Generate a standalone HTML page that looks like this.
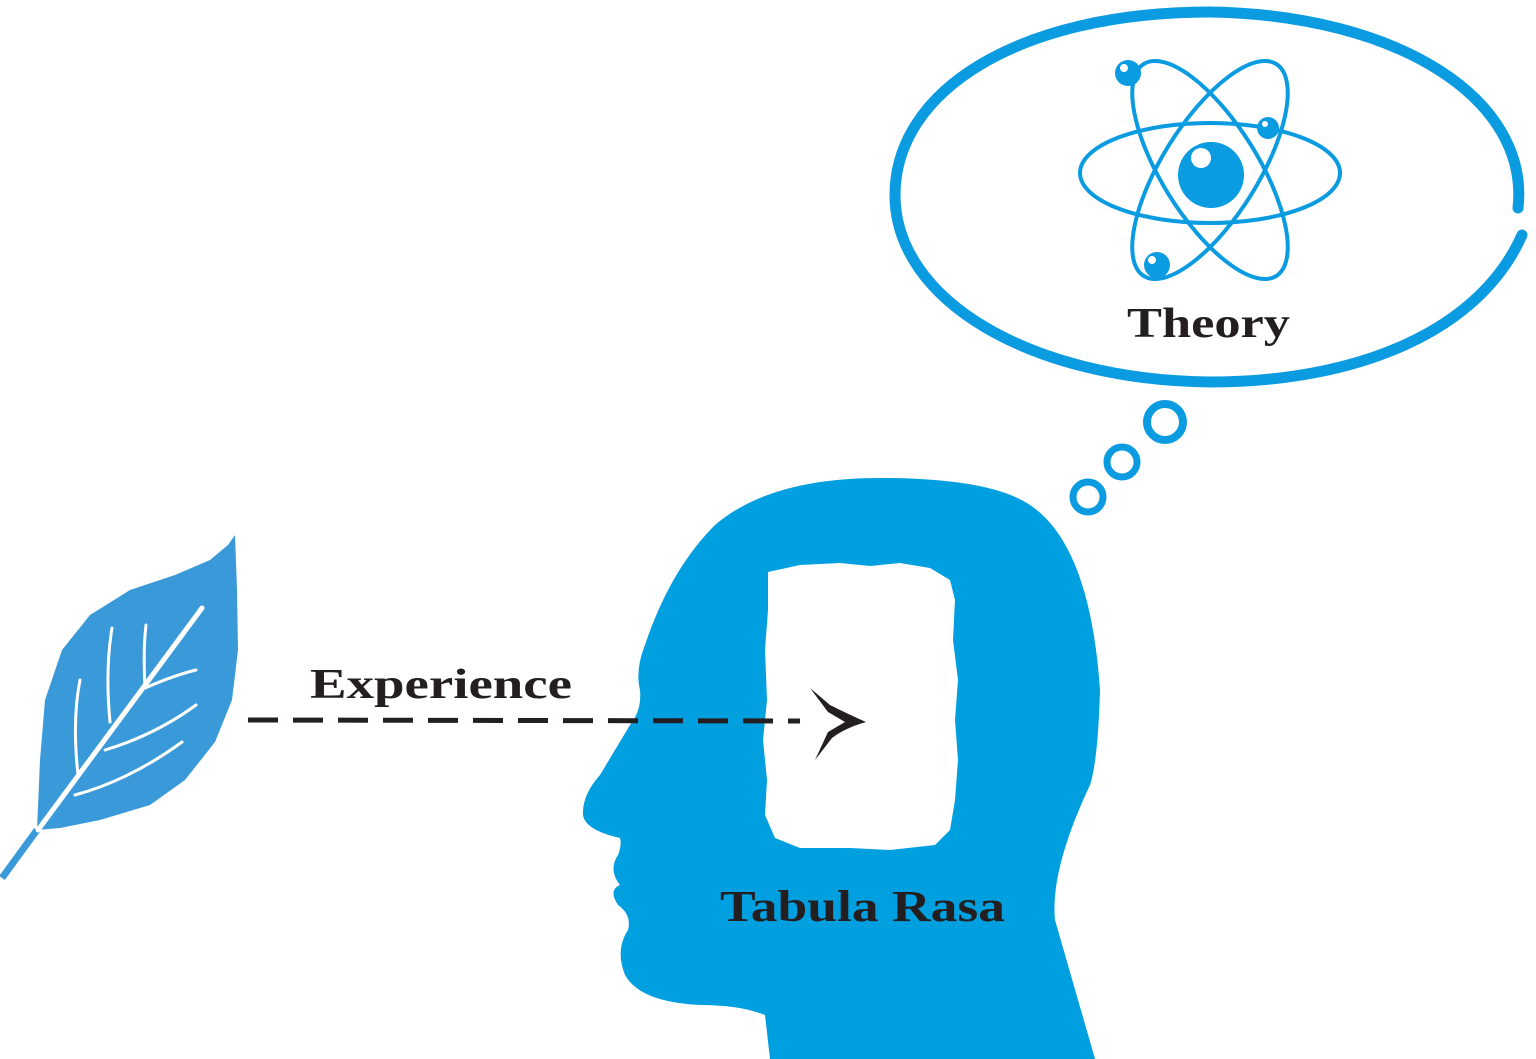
<!DOCTYPE html>
<html><head><style>
html,body{margin:0;padding:0;background:#fff}
svg{display:block}
text{font-family:"Liberation Serif",serif;font-weight:bold;fill:#231f20}
</style></head><body>
<svg width="1536" height="1059" viewBox="0 0 1536 1059">
<!-- thought cloud -->
<path d="M1518 208 C1530 100 1400 15 1210 12 C1020 12 895 90 895 195 C895 300 1030 380 1210 382 C1360 382 1480 330 1522 235" fill="none" stroke="#0a9be0" stroke-width="11" stroke-linecap="round"/>
<circle cx="1165" cy="422" r="18" fill="none" stroke="#0a9be0" stroke-width="8"/>
<circle cx="1122" cy="462" r="15" fill="none" stroke="#0a9be0" stroke-width="7"/>
<circle cx="1088" cy="497" r="15" fill="none" stroke="#0a9be0" stroke-width="7"/>
<!-- atom -->
<g fill="none" stroke="#0a9be0" stroke-width="4">
<ellipse cx="1210" cy="173" rx="130" ry="50"/>
<ellipse cx="1210" cy="170" rx="125" ry="48" transform="rotate(58 1210 170)"/>
<ellipse cx="1210" cy="170" rx="125" ry="48" transform="rotate(-58 1210 170)"/>
</g>
<circle cx="1211" cy="175" r="33" fill="#0a9be0"/>
<circle cx="1201" cy="158" r="10" fill="#fff"/>
<circle cx="1128" cy="73" r="13" fill="#0a9be0"/><circle cx="1124" cy="68" r="4" fill="#fff"/>
<circle cx="1268" cy="128" r="11" fill="#0a9be0"/><circle cx="1265" cy="124" r="3" fill="#fff"/>
<circle cx="1157" cy="265" r="13" fill="#0a9be0"/><circle cx="1152" cy="260" r="4" fill="#fff"/>
<text x="1127" y="337" font-size="42" textLength="163" lengthAdjust="spacingAndGlyphs">Theory</text>
<!-- head -->
<path d="M770 1059 L765 1015 Q740 1005 700 1005 Q640 1002 625 975 Q615 950 628 930 Q632 915 618 905 Q608 890 620 885 Q608 870 618 855 Q622 845 620 838 Q585 830 583 815 Q582 795 600 775 L630 725 Q642 710 640 690 Q635 670 645 645 Q670 570 715 525 Q770 478 880 478 Q990 478 1030 505 Q1090 545 1100 690 Q1098 760 1090 785 Q1050 870 1055 920 L1095 1059 Z" fill="#009fe0"/>
<path d="M768 572 L800 565 L840 563 L870 566 L900 563 L930 568 L950 580 L955 600 L953 640 L958 680 L955 720 L958 760 L955 800 L950 830 L935 845 L890 850 L850 848 L800 848 L775 838 L765 815 L767 780 L763 740 L767 700 L765 650 L768 610 Z" fill="#fff"/>
<text x="720" y="921" font-size="44" textLength="285" lengthAdjust="spacingAndGlyphs">Tabula Rasa</text>
<!-- leaf -->
<path d="M37 830 L40 760 L45 700 L62 650 L90 615 L130 590 L175 575 L210 560 L228 545 L235 535 L237 590 L238 650 L232 700 L215 742 L185 780 L150 805 L100 820 L60 828 Z" fill="#3a9ad9"/>
<path d="M2 878 L37 830" stroke="#3a9ad9" stroke-width="7"/>
<g stroke="#fff" fill="none" stroke-linecap="round">
<path d="M38 830 L202 608" stroke-width="5"/>
<path d="M78 775 Q72 720 80 680" stroke-width="3"/>
<path d="M110 722 Q105 670 112 628" stroke-width="3"/>
<path d="M145 688 Q143 650 146 625" stroke-width="3"/>
<path d="M75 795 Q130 780 182 742" stroke-width="3"/>
<path d="M105 750 Q155 735 196 705" stroke-width="3"/>
<path d="M145 688 Q175 675 196 670" stroke-width="3"/>
</g>
<!-- experience arrow -->
<text x="310" y="698" font-size="42" textLength="262" lengthAdjust="spacingAndGlyphs">Experience</text>
<path d="M248 720 L800 721" stroke="#231f20" stroke-width="5" stroke-dasharray="30 15"/>
<path d="M810 688 L830 705 Q850 715 866 722 Q845 728 832 738 L815 760 L828 732 L845 722 L828 712 Z" fill="#231f20"/>
</svg>
</body></html>
